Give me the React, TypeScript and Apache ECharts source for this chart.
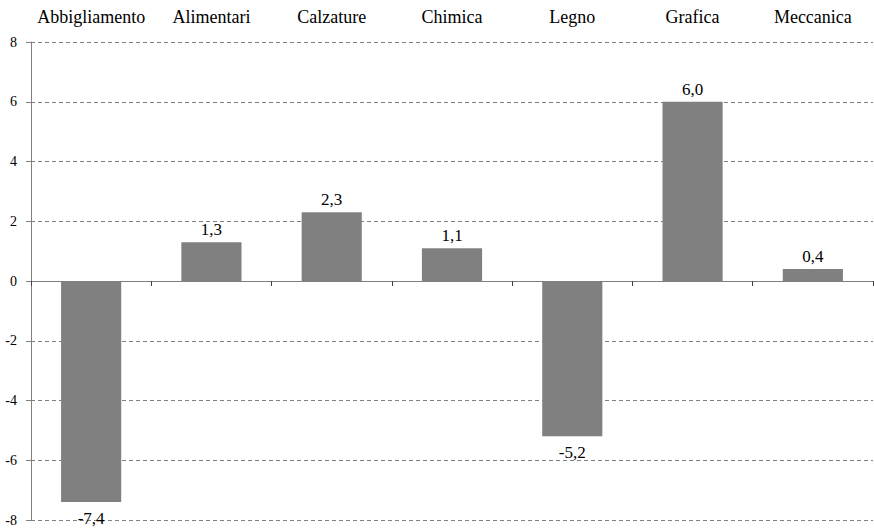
import React, { useEffect, useRef } from "react";
import * as echarts from "echarts";

const categories = ["Abbigliamento", "Alimentari", "Calzature", "Chimica", "Legno", "Grafica", "Meccanica"];
const values = [-7.4, 1.3, 2.3, 1.1, -5.2, 6.0, 0.4];
const yMin = -8;
const yMax = 8;
const yInterval = 2;

const FONT = "Times New Roman";

export default function App() {
  const ref = useRef<HTMLDivElement>(null);
  useEffect(() => {
    if (!ref.current) return;
    const chart = echarts.init(ref.current, null, { renderer: "svg" });
    chart.setOption({
      animation: false,
      backgroundColor: "#ffffff",
      textStyle: { fontFamily: FONT },
      grid: { left: 31, right: 1, top: 42, bottom: 10, containLabel: false },
      xAxis: [
        {
          type: "category",
          data: categories,
          position: "bottom",
          axisLine: { onZero: true, lineStyle: { color: "#808080", width: 1 } },
          axisTick: { show: true, inside: false, length: 5, lineStyle: { color: "#404040" } },
          axisLabel: { show: false },
          splitLine: { show: false },
        },
        {
          type: "category",
          data: categories,
          position: "top",
          axisLine: { show: false },
          axisTick: { show: false },
          axisLabel: { show: true, interval: 0, color: "#000", fontFamily: FONT, fontSize: 18, margin: 16 },
        },
      ],
      yAxis: {
        type: "value",
        min: yMin,
        max: yMax,
        interval: yInterval,
        axisLine: { show: true, lineStyle: { color: "#808080" } },
        axisTick: { show: true, length: 5, lineStyle: { color: "#808080" } },
        axisLabel: { color: "#000", fontFamily: FONT, fontSize: 14, margin: 14 },
        splitLine: { show: true, lineStyle: { color: "#808080", type: [4, 3], width: 1 } },
      },
      series: [
        {
          type: "bar",
          xAxisIndex: 0,
          barWidth: "50%",
          itemStyle: { color: "#808080" },
          data: values.map((v) => ({
            value: v,
            label: {
              show: true,
              position: v < 0 ? "bottom" : "top",
              distance: v < 0 ? 8 : 4,
              color: "#000",
              fontFamily: FONT,
              fontSize: 17,
              formatter: () => v.toFixed(1).replace(".", ","),
            },
          })),
        },
      ],
    });
    return () => chart.dispose();
  }, []);
  return <div ref={ref} style={{ position: "fixed", left: 0, top: 0, width: 874, height: 530 }} />;
}
